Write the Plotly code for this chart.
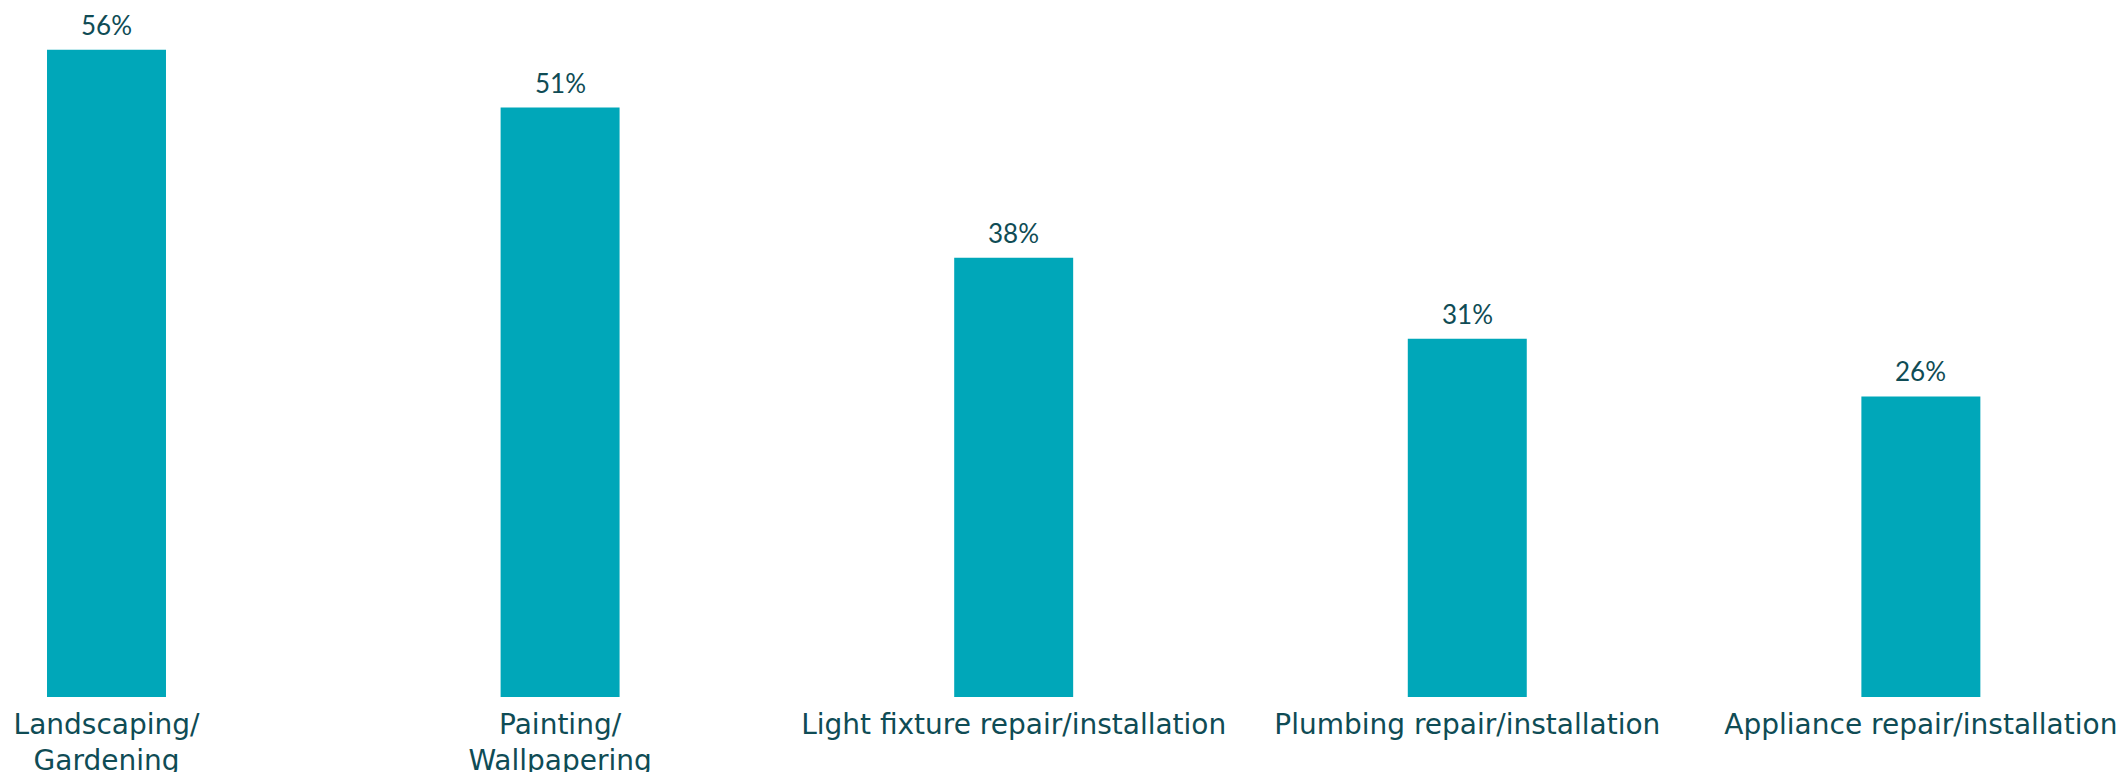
import plotly.graph_objects as go

categories = ["Landscaping/<br>Gardening", "Painting/<br>Wallpapering",
              "Light fixture repair/installation", "Plumbing repair/installation",
              "Appliance repair/installation"]
values = [56, 51, 38, 31, 26]
value_labels = ["56%", "51%", "38%", "31%", "26%"]

BAR = "#00a7b9"
TXT = "#0f4c55"

xs = list(range(len(categories)))
fig = go.Figure(go.Bar(
    x=xs, y=values,
    marker=dict(color=BAR, line=dict(width=0)),
    cliponaxis=False, hoverinfo="skip",
))
for x, v, t in zip(xs, values, value_labels):
    fig.add_annotation(x=x, y=v, text=t, showarrow=False, yanchor="bottom",
                       yshift=7, font=dict(family="Lato", size=26, color=TXT))
fig.update_layout(
    width=2118, height=772,
    margin=dict(l=0, r=0, t=0, b=75, autoexpand=False),
    paper_bgcolor="white", plot_bgcolor="white",
    bargap=0.7377,
    showlegend=False,
    xaxis=dict(range=[-0.2348, 4.4346], tickmode="array",
               tickvals=xs, ticktext=categories, automargin=False,
               showgrid=False, zeroline=False, showline=False, ticks="",
               ticklabelstandoff=8,
               tickfont=dict(family="DejaVu Sans", size=28, color=TXT)),
    yaxis=dict(range=[0, 60.3], visible=False, automargin=False),
)
fig.write_html("out.html", config={"displayModeBar": False},
               post_script="document.body.style.margin='0';document.body.style.overflow='hidden';")
